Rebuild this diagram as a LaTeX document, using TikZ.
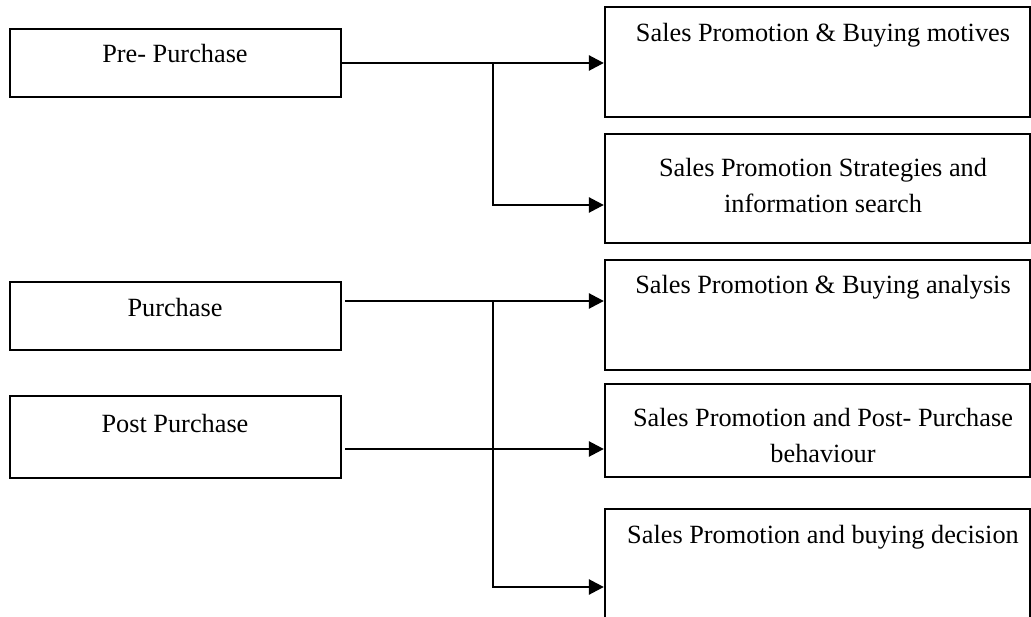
\documentclass[tikz,border=0pt]{standalone}
\usepackage{fontspec}
\setmainfont{Liberation Serif}
\usetikzlibrary{arrows.meta}
\begin{document}
\begin{tikzpicture}[x=1pt,y=-1pt,
  box/.style={draw=black,line width=2.3pt,fill=white,inner sep=0pt,anchor=center},
  txt/.style={anchor=base,inner sep=0pt,align=center,font=\fontsize{26.3}{36}\selectfont},
  conn/.style={draw=black,line width=2.6pt},
  arr/.style={conn,-{Triangle[length=15pt,width=15pt]}}]
\useasboundingbox (0,0) rectangle (1031,617);
\clip (0,0) rectangle (1031,617);
\fill[white] (0,0) rectangle (1031,617);
% left boxes
\node[box,minimum width=331pt,minimum height=68pt] (pre) at (175.5,63) {};
\node[box,minimum width=331pt,minimum height=68pt] (pur) at (175.5,316) {};
\node[box,minimum width=331pt,minimum height=82pt] (post) at (175.5,437) {};
% right boxes
\node[box,minimum width=425pt,minimum height=110pt] (r1) at (817.5,62) {};
\node[box,minimum width=425pt,minimum height=109pt] (r2) at (817.5,188.5) {};
\node[box,minimum width=425pt,minimum height=110pt] (r3) at (817.5,315) {};
\node[box,minimum width=425pt,minimum height=93pt] (r4) at (817.5,430.5) {};
\node[box,minimum width=425pt,minimum height=112pt] (r5) at (817.5,565) {};
% texts
\node[txt] (tpre) at (175,63) {Pre- Purchase};
\node[txt] (tpur) at (175,317) {Purchase};
\node[txt] (tpost) at (175,432) {Post Purchase};
\node[txt] (t1) at (823,42) {Sales Promotion \& Buying motives};
\node[txt] (t2) at (823,213) {Sales Promotion Strategies and\\information search};
\node[txt] (t3) at (823,294) {Sales Promotion \& Buying analysis};
\node[txt] (t4) at (823,463) {Sales Promotion and Post- Purchase\\behaviour};
\node[txt] (t5) at (823,543) {Sales Promotion and buying decision};
% junction coordinates
\coordinate (ja) at (493,63);
\coordinate (jb) at (493,301);
\coordinate (pa) at (345,301);
\coordinate (pb) at (345,449);
% connectors
\draw[arr] (pre.east) -- (pre.east -| r1.west);
\draw[arr] (ja) |- (r2.west |- 0,205);
\draw[arr] (pa) -- (pa -| r3.west);
\draw[arr] (pb) -- (pb -| r4.west);
\draw[arr] (jb) |- (r5.west |- 0,587);
\end{tikzpicture}
\end{document}
